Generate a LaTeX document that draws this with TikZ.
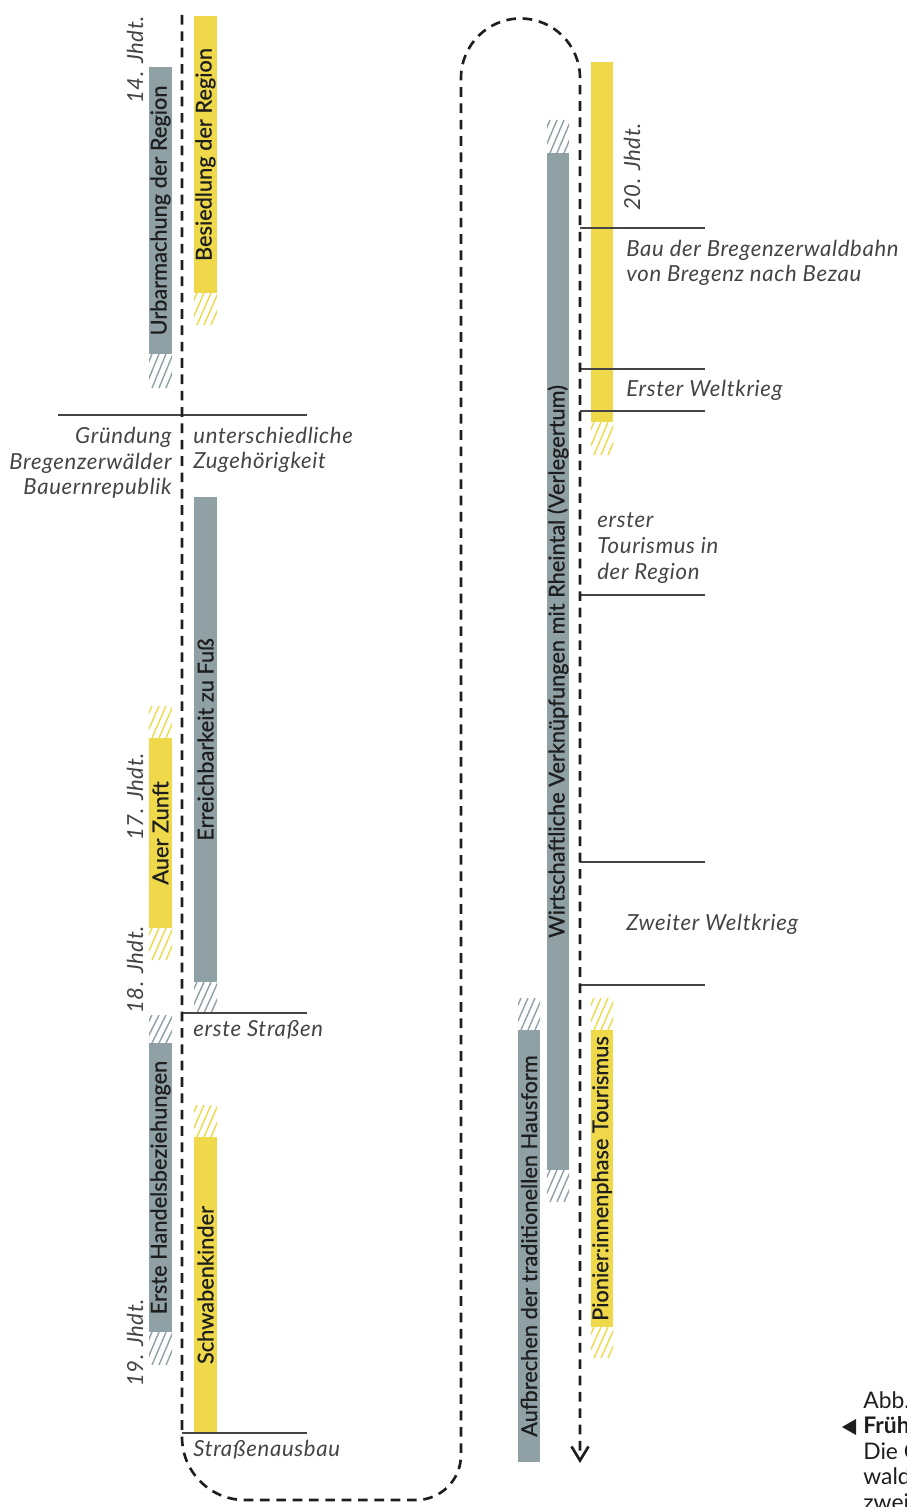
\documentclass[tikz,border=0pt]{standalone}
\usepackage{fontspec}
\setmainfont{Lato}
\newfontfamily\barfont{Lato}[FakeBold=0.7]
\newfontfamily\notefont{Lato}[LetterSpace=3]
\usetikzlibrary{arrows.meta}

\definecolor{slate}{HTML}{8FA1A5}
\definecolor{mustard}{HTML}{EFD94B}
\definecolor{ink}{HTML}{1E1E1E}
\definecolor{pencil}{HTML}{444444}

% hatched end of a phase bar: colour, left, top, right, bottom
\newcommand{\hatchend}[5]{%
  \begin{scope}
    \clip (#2,#3) rectangle (#4,#5);
    \foreach \k in {-2,...,4}
      \draw[#1, line width=0.8pt] (#2+\k*7-4,#5) -- (#2+\k*7+10,#3);
  \end{scope}}

\begin{document}
\begin{tikzpicture}[
  x=0.02cm, y=-0.02cm,
  road/.style={ink, line width=1.5pt, dash pattern=on 5.5pt off 3.8pt},
  phase/.style={rotate=90, minimum height=0.45cm, inner sep=0pt,
                font=\barfont\fontsize{12.4}{14}\selectfont, text=ink},
  slatebar/.style={phase, fill=slate},
  goldbar/.style={phase, fill=mustard},
  note/.style={font=\notefont\fontsize{12.6}{14.6}\selectfont\itshape, text=pencil,
               inner sep=0pt, align=left},
  era/.style={note, rotate=90},
  tick/.style={pencil, line width=0.6pt}
]
  \clip (0,0) rectangle (906,1507);

  % left column
  \node[slatebar, minimum width=5.74cm] (urbar) at (160.5,210.5) {Urbarmachung der Region};
  \node[goldbar, minimum width=5.54cm] (besied) at (205.5,154.5) {Besiedlung der Region};
  \node[slatebar, minimum width=9.70cm] (fuss) at (205.5,739.5) {Erreichbarkeit zu Fuß};
  \node[goldbar, minimum width=3.80cm] (zunft) at (160.5,833) {Auer Zunft};
  \node[slatebar, minimum width=5.78cm] (handel) at (160.5,1187.5) {Erste Handelsbeziehungen};
  \node[goldbar, minimum width=5.92cm] (schwaben) at (205.5,1285) {Schwabenkinder};

  \hatchend{slate}{149}{354}{172}{388}
  \hatchend{mustard}{194}{293}{217}{325}
  \hatchend{slate}{194}{982}{217}{1013}
  \hatchend{mustard}{149}{706}{172}{738}
  \hatchend{mustard}{149}{928}{172}{960}
  \hatchend{slate}{149}{1015}{172}{1043}
  \hatchend{slate}{149}{1332}{172}{1365}
  \hatchend{mustard}{194}{1105}{217}{1137}

  \node[era] (jh14) at (135,60) {14. Jhdt.};
  \node[era] (jh17) at (135,797) {17. Jhdt.};
  \node[era] (jh18) at (135,970) {18. Jhdt.};
  \node[era] (jh19) at (135,1343) {19. Jhdt.};

  \draw[tick] (58,415) -- (307,415);
  \draw[tick] (182,1013) -- (307,1013);
  \draw[tick] (182,1433) -- (307,1433);

  \node[note, align=right, anchor=east] (republik) at (172,463)
    {Gründung\\Bregenzerwälder\\Bauernrepublik};
  \node[note, anchor=west] (zugehoer) at (193,450) {unterschiedliche\\Zugehörigkeit};
  \node[note, anchor=west] (strassen) at (193,1030) {erste Straßen};
  \node[note, anchor=west] (ausbau) at (193,1450) {Straßenausbau};

  % right column
  \node[slatebar, minimum width=20.34cm] (verleger) at (558,661.5)
    {Wirtschaftliche Verknüpfungen mit Rheintal (Verlegertum)};
  \node[goldbar, minimum width=7.20cm] (jhbar) at (602,242) {};
  \node[slatebar, minimum width=8.64cm] (hausform) at (529,1246)
    {Aufbrechen der traditionellen Hausform};
  \node[goldbar, minimum width=5.94cm] (pionier) at (602,1178.5)
    {Pionier:innenphase Tourismus};

  \hatchend{slate}{547}{120}{569}{153}
  \hatchend{slate}{547}{1170}{569}{1202}
  \hatchend{mustard}{591}{422}{613}{455}
  \hatchend{slate}{518}{998}{540}{1030}
  \hatchend{mustard}{591}{998}{613}{1030}
  \hatchend{mustard}{591}{1327}{613}{1358}

  \node[era] (jh20) at (632,167) {20. Jhdt.};

  \foreach \y in {228,369,411,595,862,985}
    \draw[tick] (580,\y) -- (705,\y);

  \node[note, anchor=west] (bahn) at (626,263) {Bau der Bregenzerwaldbahn\\von Bregenz nach Bezau};
  \node[note, anchor=west] (wk1) at (626,390) {Erster Weltkrieg};
  \node[note, anchor=west] (tourismus) at (597,548) {erster\\Tourismus in\\der Region};
  \node[note, anchor=west] (wk2) at (626,924) {Zweiter Weltkrieg};

  % the road through time
  \coordinate (start) at (182,15);
  \coordinate (end) at (580,1463);
  \draw[road, -{Straight Barb[length=2.8mm, width=3.4mm]}]
    (start) -- (182,1437) arc (180:90:63) -- (416,1500) arc (90:0:45)
    -- (461,78) arc (180:360:59.5) -- (end);

  % caption, cut by the page edge
  \node[font=\fontsize{13}{14.5}\selectfont, text=ink, anchor=west, inner sep=0pt,
        align=left] (caption) at (863,1451)
    {Abb.\\\textbf{Früh}\\Die C\\wald\\zwei};
  \fill[ink] (842,1427) -- (856,1419) -- (856,1435) -- cycle;
\end{tikzpicture}
\end{document}
